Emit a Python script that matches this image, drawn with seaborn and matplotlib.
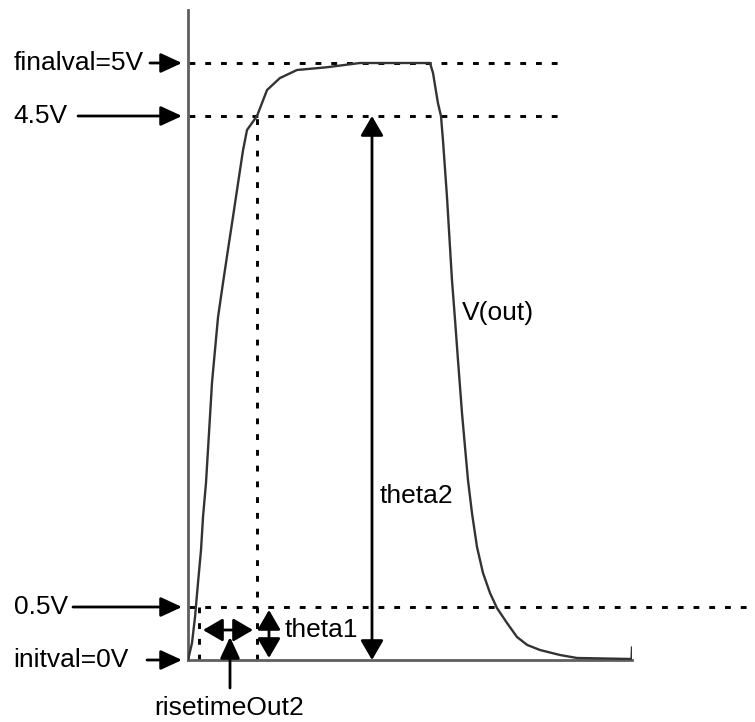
import numpy as np
import pandas as pd
import matplotlib
matplotlib.use("Agg")
import matplotlib.pyplot as plt
import seaborn as sns

# ---- waveform V(out): time in ns, voltage in V ----
time_ns = [0.0, 0.09, 0.158, 0.225, 0.293, 0.338, 0.405, 0.45, 0.495, 0.54,
           0.608, 0.676, 0.788, 0.90, 1.014, 1.126, 1.239, 1.329, 1.554, 1.78,
           2.07, 2.455, 3.13, 3.874, 5.45, 5.518, 5.63, 5.698, 5.743, 5.833,
           5.946, 6.014, 6.081, 6.171, 6.239, 6.306, 6.396, 6.509, 6.644, 6.802,
           6.959, 7.185, 7.41, 7.64, 7.93, 8.38, 8.76, 9.91, 9.99, 10.0]
v_out = [0.0, 0.16, 0.406, 0.696, 0.964, 1.233, 1.51, 1.78, 2.05, 2.325,
         2.594, 2.86, 3.14, 3.41, 3.68, 3.95, 4.22, 4.386, 4.5, 4.745,
         4.858, 4.934, 4.96, 5.0, 5.0, 4.906, 4.62, 4.5, 4.30, 3.84,
         3.16, 2.84, 2.51, 2.08, 1.803, 1.534, 1.265, 0.989, 0.777, 0.614,
         0.49, 0.349, 0.217, 0.142, 0.094, 0.047, 0.019, 0.01, 0.01, 0.12]

# ---- measurement levels ----
level_v = [5.0, 4.5, 0.5, 0.0]
level_labels = ["finalval=5V", "4.5V", "0.5V", "initval=0V"]
level_arrow_tail = [-0.856, -2.477, -2.59, -0.923]   # ns, start of pointer arrows
level_dash_end = [8.33, 8.38, 12.77, None]           # ns, end of dotted guide

# rise-time crossing instants (10 % and 90 %)
t_cross_low = 0.248
t_cross_high = 1.554

fig = plt.figure(figsize=(7.55, 7.22), dpi=100)
sns.set_theme(style="white")
plt.rcParams["font.family"] = ["Liberation Sans", "DejaVu Sans"]
plt.rcParams["text.color"] = "black"

W, H = 755.0, 722.0
ax = fig.add_axes([188 / W, 62 / H, 444 / W, 650 / H])

# schematic voltage axis: the band between 0.5 V and 4.5 V is stretched a bit
_V_KNOTS = [-2.0, 0.0, 0.5, 4.5, 5.0, 7.0]
_H_KNOTS = [-212.0, 0.0, 53.0, 544.0, 597.0, 809.0]


def _fwd(v):
    return np.interp(v, _V_KNOTS, _H_KNOTS)


def _inv(h):
    return np.interp(h, _H_KNOTS, _V_KNOTS)


ax.set_yscale("function", functions=(_fwd, _inv))
ax.set_xlim(0, 10)
ax.set_ylim(0, 5.5)

df = pd.DataFrame({"time": time_ns, "vout": v_out})
sns.lineplot(data=df, x="time", y="vout", sort=False, estimator=None,
             color="#333333", lw=1.7, ax=ax, zorder=3)

# axes frame: only the left (voltage) and bottom (time) lines
for side in ("top", "right"):
    ax.spines[side].set_visible(False)
for side in ("left", "bottom"):
    ax.spines[side].set_color("#5f5f5f")
    ax.spines[side].set_linewidth(2.0)
ax.set_xticks([])
ax.set_yticks([])
ax.set_xlabel("")
ax.set_ylabel("")
ax.patch.set_alpha(0)

dash = (0, (2.0, 3.4))
guide_kw = dict(color="black", lw=2.1, linestyle=dash, clip_on=False, zorder=2)

FS = 19
arrow_kw = dict(arrowstyle="-|>,head_length=1.3,head_width=0.6",
                mutation_scale=10, lw=2.0, color="black",
                shrinkA=0, shrinkB=0)
darrow_kw = dict(arrowstyle="<|-|>,head_length=1.2,head_width=0.7",
                 mutation_scale=10, lw=2.0, color="black",
                 shrinkA=0, shrinkB=0)

# level labels with pointer arrows and dotted guides
for v, lab, tail, end in zip(level_v, level_labels, level_arrow_tail, level_dash_end):
    ax.text(-3.93, v, lab, fontsize=FS, ha="left", va="center", color="black")
    ax.annotate("", xy=(-0.135, v), xytext=(tail, v),
                arrowprops=arrow_kw, annotation_clip=False)
    if end is not None:
        ax.plot([0.02, end], [v, v], **guide_kw)

# vertical guides at the crossing instants
ax.plot([t_cross_low, t_cross_low], [0, level_v[2]], **guide_kw)
ax.plot([t_cross_high, t_cross_high], [0, level_v[1]], **guide_kw)

# rise time span
ax.annotate("", xy=(1.464, 0.283), xytext=(0.338, 0.283),
            arrowprops=darrow_kw, annotation_clip=False)
ax.annotate("", xy=(0.946, 0.217), xytext=(0.946, -0.264),
            arrowprops=arrow_kw, annotation_clip=False)
ax.text(0.92, -0.45, "risetimeOut2", fontsize=FS, ha="center", va="center",
        color="black")

# theta1: 0 V to 0.5 V
ax.annotate("", xy=(1.824, 0.472), xytext=(1.824, 0.019),
            arrowprops=darrow_kw, annotation_clip=False)
ax.text(2.185, 0.283, "theta1", fontsize=FS, ha="left", va="center",
        color="black")

# theta2: 0 V to 4.5 V
ax.annotate("", xy=(4.144, 4.5), xytext=(4.144, 0.0),
            arrowprops=darrow_kw, annotation_clip=False)
ax.text(4.324, 1.404, "theta2", fontsize=FS, ha="left", va="center",
        color="black")

ax.text(6.17, 2.895, "V(out)", fontsize=FS, ha="left", va="center",
        color="black")

fig.savefig("out.png", dpi=100)
